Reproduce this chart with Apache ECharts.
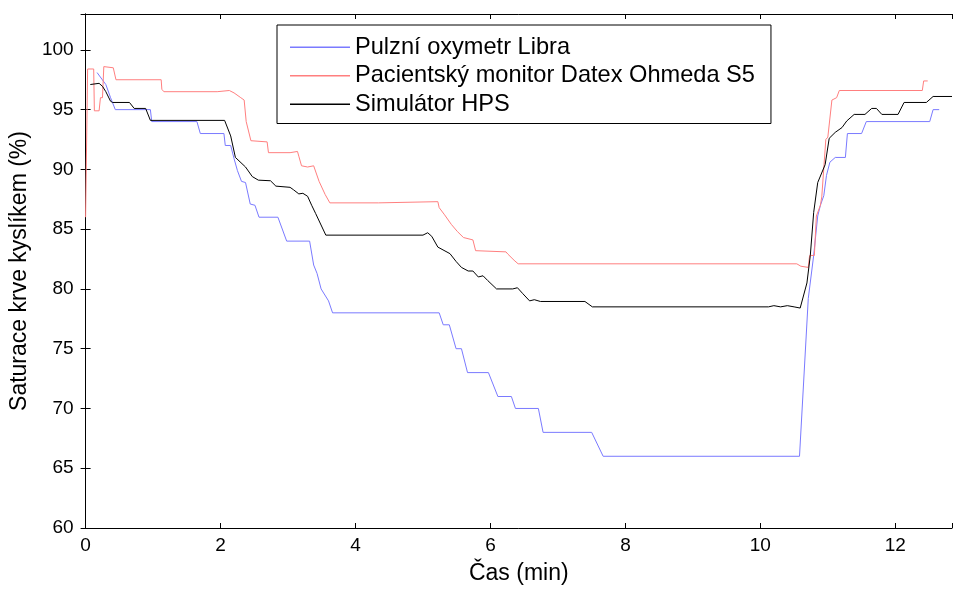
<!DOCTYPE html>
<html>
<head>
<meta charset="utf-8">
<script src="https://cdn.jsdelivr.net/npm/echarts@6/dist/echarts.min.js"></script>
<style>html,body{margin:0;padding:0;background:#fff}#c{width:957px;height:590px}</style>
</head>
<body>
<div id="c"></div>
<script>
// Series names
const seriesNames = ['Pulzní oxymetr Libra', 'Pacientský monitor Datex Ohmeda S5', 'Simulátor HPS'];
// [time (min), SpO2 (%)]
const libraData = [[0.17,98.1],[0.3,97.1],[0.37,96],[0.44,95],[0.96,95],[0.98,94],[1.65,94],[1.7,93],[2.05,93],[2.07,92],[2.15,92],[2.2,90.9],[2.25,89.9],[2.31,89],[2.37,88.9],[2.44,87.1],[2.51,87],[2.57,86],[2.85,86],[2.98,84],[3.32,84],[3.38,82],[3.43,81.3],[3.49,80],[3.6,79],[3.66,78],[5.24,78],[5.3,77],[5.39,77],[5.49,75],[5.57,75],[5.66,73],[5.97,73],[6.11,71],[6.31,71],[6.37,70],[6.71,70],[6.78,68],[7.5,68],[7.67,66],[10.58,66],[10.71,79.2],[10.79,82.8],[10.85,86.1],[10.89,87],[10.94,87.8],[10.98,89.5],[11.03,90.6],[11.11,91],[11.26,91],[11.29,93],[11.5,93],[11.57,94],[12.51,94],[12.56,95],[12.65,95]];
const datexData = [[0,86],[0.03,98.4],[0.12,98.4],[0.13,94.9],[0.2,94.9],[0.22,96],[0.25,96],[0.27,98.6],[0.41,98.5],[0.45,97.5],[1.12,97.5],[1.13,96.7],[1.16,96.5],[1.95,96.5],[1.97,96.6],[2.13,96.6],[2.2,96.4],[2.3,96],[2.35,95.8],[2.38,94],[2.45,92.4],[2.69,92.3],[2.71,91.4],[3.03,91.4],[3.05,91.5],[3.14,91.5],[3.16,91.1],[3.2,90.3],[3.29,90.2],[3.38,90.3],[3.46,89],[3.55,87.9],[3.62,87.2],[4.34,87.2],[4.36,87.3],[5.22,87.3],[5.24,86.8],[5.32,86.2],[5.42,85.4],[5.51,84.8],[5.6,84.3],[5.74,84.1],[5.78,83.2],[6.23,83.1],[6.26,82.9],[6.35,82.4],[6.41,82.1],[10.54,82.1],[10.6,81.9],[10.71,81.8],[10.73,82.8],[10.8,82.8],[10.83,86.1],[10.89,87],[10.91,87.7],[10.97,92.5],[11.0,92.7],[11.06,95.8],[11.13,96],[11.17,96.6],[12.4,96.6],[12.42,97.4],[12.48,97.4]];
const hpsData = [[0.07,97.1],[0.2,97.2],[0.25,96.95],[0.3,96.5],[0.37,95.7],[0.4,95.6],[0.65,95.6],[0.72,95.1],[0.89,95.1],[0.96,94.1],[2.06,94.1],[2.15,92.8],[2.22,91],[2.37,90.2],[2.47,89.4],[2.56,89.1],[2.74,89.05],[2.82,88.6],[3.03,88.5],[3.08,88.3],[3.16,87.95],[3.22,88.0],[3.29,87.75],[3.35,87],[3.41,86.3],[3.56,84.5],[5.0,84.5],[5.07,84.7],[5.13,84.4],[5.22,83.5],[5.4,82.95],[5.49,82.3],[5.57,81.8],[5.67,81.5],[5.74,81.5],[5.82,81.0],[5.89,81.1],[5.96,80.7],[6.09,80],[6.33,80],[6.4,80.1],[6.48,79.6],[6.58,79],[6.65,79.1],[6.74,78.95],[7.4,78.95],[7.51,78.5],[10.12,78.5],[10.2,78.6],[10.3,78.5],[10.4,78.6],[10.5,78.5],[10.59,78.4],[10.69,80.5],[10.74,82.8],[10.79,86.4],[10.85,88.9],[10.96,90.4],[11.02,92.6],[11.11,93.1],[11.21,93.5],[11.28,94.05],[11.39,94.6],[11.55,94.6],[11.65,95.1],[11.72,95.1],[11.8,94.6],[12.04,94.6],[12.13,95.6],[12.46,95.6],[12.56,96.1],[12.84,96.1]];
const xTicks = [0,2,4,6,8,10,12];
const yTicks = [60,65,70,75,80,85,90,95,100];

const FONT = '"Liberation Sans", Arial, sans-serif';
const chart = echarts.init(document.getElementById('c'), null, {renderer: 'canvas'});
const axisCommon = {
  axisLine: {show: true, lineStyle: {color: '#000', width: 1}},
  axisTick: {show: true, inside: true, length: 5, lineStyle: {color: '#000'}},
  splitLine: {show: false}
};
chart.setOption({
  animation: false,
  backgroundColor: '#fff',
  grid: {left: 83, top: 14, width: 869, height: 517, containLabel: false},
  legend: {
    orient: 'vertical', left: 277, top: 25,
    backgroundColor: '#fff', borderColor: '#000', borderWidth: 1,
    padding: [10, 16, 7, 13],
    icon: 'rect', itemWidth: 60, itemHeight: 1.5, itemGap: 4,
    textStyle: {fontFamily: FONT, fontSize: 23.6, color: '#000', lineHeight: 24.5},
    data: seriesNames
  },
  xAxis: [
    Object.assign({type: 'value', min: 0, max: 12.84, interval: 2, position: 'bottom',
      name: 'Čas (min)', nameLocation: 'middle', nameGap: 34,
      nameTextStyle: {fontFamily: FONT, fontSize: 23, color: '#000'},
      axisLabel: {fontFamily: FONT, fontSize: 19, color: '#000', margin: 8,
        formatter: v => xTicks.includes(v) ? String(v) : ''}}, axisCommon),
    Object.assign({type: 'value', min: 0, max: 12.84, interval: 2, position: 'top',
      axisLabel: {show: false}}, axisCommon)
  ],
  yAxis: [
    Object.assign({type: 'value', min: 60, max: 103, interval: 5, position: 'left',
      name: 'Saturace krve kyslíkem (%)', nameLocation: 'middle', nameGap: 51,
      nameTextStyle: {fontFamily: FONT, fontSize: 23, color: '#000'},
      axisLabel: {fontFamily: FONT, fontSize: 19, color: '#000', margin: 12,
        formatter: v => yTicks.includes(v) ? String(v) : ''}}, axisCommon),
    Object.assign({type: 'value', min: 60, max: 103, interval: 5, position: 'right',
      axisLabel: {show: false}}, axisCommon)
  ],
  series: [
    {name: seriesNames[0], type: 'line', data: libraData, symbol: 'none',
      lineStyle: {color: '#7a7aff', width: 1}, itemStyle: {color: '#7a7aff'}},
    {name: seriesNames[1], type: 'line', data: datexData, symbol: 'none',
      lineStyle: {color: '#ff7f7f', width: 1}, itemStyle: {color: '#ff7f7f'}},
    {name: seriesNames[2], type: 'line', data: hpsData, symbol: 'none',
      lineStyle: {color: '#000', width: 1}, itemStyle: {color: '#000'}}
  ]
});
</script>
</body>
</html>
